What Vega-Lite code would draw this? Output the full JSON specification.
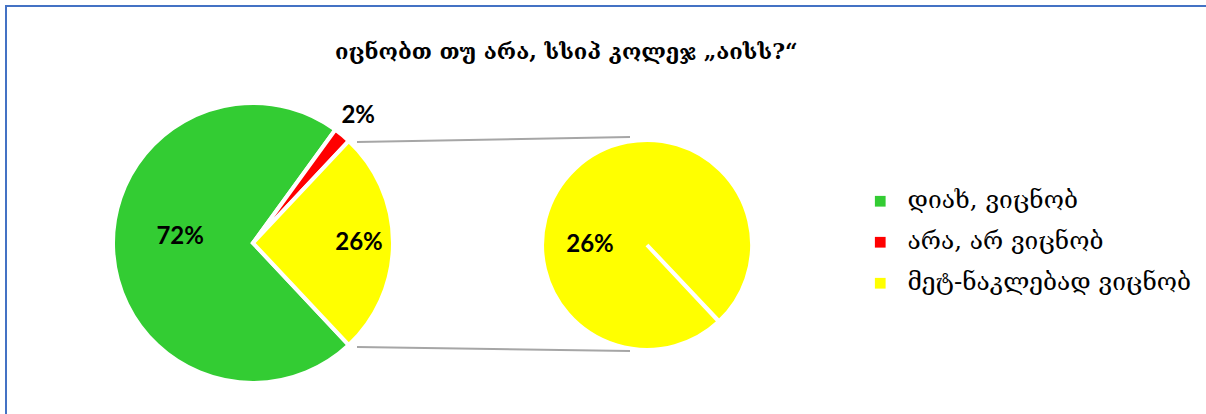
{
  "$schema": "https://vega.github.io/schema/vega-lite/v6.json",
  "usermeta": {"embedOptions": {"actions": false}},
  "width": 1202,
  "height": 410,
  "autosize": "none",
  "padding": {"left": 6, "top": 6, "right": -2, "bottom": -2},
  "background": "white",
  "config": {"view": {"stroke": "#4472C4", "strokeWidth": 2}, "font": "DejaVu Serif"},
  "title": {"text": "იცნობთ თუ არა, სსიპ კოლეჯ „აისს?“", "fontSize": 22, "fontWeight": "bold", "color": "#000000", "font": "DejaVu Serif", "anchor": "start", "offset": -58, "dx": 329},
  "resolve": {"scale": {"theta": "independent"}},
  "layer": [
    {
      "data": {"values": [
        {"plot": "main", "answer": "დიახ, ვიცნობ", "pct": 0.72},
        {"plot": "main", "answer": "არა, არ ვიცნობ", "pct": 0.02},
        {"plot": "main", "answer": "მეტ-ნაკლებად ვიცნობ", "pct": 0.26}
      ]},
      "encoding": {
        "x": {"field": "plot", "type": "nominal", "scale": {"type": "point", "domain": ["main", "secondary"], "range": [247, 641], "padding": 0}, "axis": null},
        "y": {"field": "plot", "type": "nominal", "scale": {"type": "point", "domain": ["main", "secondary"], "range": [237, 239], "padding": 0}, "axis": null},
        "theta": {"field": "pct", "type": "quantitative", "stack": true, "scale": {"range": [0.754, 7.0372]}},
        "order": {"field": "answer", "type": "nominal", "sort": "descending"}
      },
      "layer": [
        {
          "mark": {"type": "arc", "radius": 140, "stroke": "white", "strokeWidth": 4},
          "encoding": {
            "color": {"field": "answer", "type": "nominal",
              "scale": {"domain": ["დიახ, ვიცნობ", "არა, არ ვიცნობ", "მეტ-ნაკლებად ვიცნობ"], "range": ["#33CC33", "#FF0000", "#FFFF00"]},
              "legend": {"orient": "none", "legendX": 862, "legendY": 183, "title": null, "padding": 0, "symbolType": "square", "symbolSize": 115, "symbolStrokeWidth": 0, "labelFontSize": 24.5, "labelFont": "DejaVu Serif", "labelColor": "#000000", "rowPadding": 16, "labelOffset": 15, "labelLimit": 400}}
          }
        },
        {
          "mark": {"type": "text", "radius": 73, "dy": -11, "font": "Lato", "fontWeight": "bold", "fontSize": 24, "color": "#000000"},
          "encoding": {
            "text": {"field": "pct", "type": "quantitative", "format": ".0%"},
            "opacity": {"condition": {"test": "datum.answer === 'დიახ, ვიცნობ'", "value": 1}, "value": 0}
          }
        },
        {
          "mark": {"type": "text", "radius": 106, "font": "Lato", "fontWeight": "bold", "fontSize": 24, "color": "#000000"},
          "encoding": {
            "text": {"field": "pct", "type": "quantitative", "format": ".0%"},
            "opacity": {"condition": {"test": "datum.answer === 'მეტ-ნაკლებად ვიცნობ'", "value": 1}, "value": 0}
          }
        },
        {
          "mark": {"type": "text", "radius": 165, "font": "Lato", "fontWeight": "bold", "fontSize": 24, "color": "#000000"},
          "encoding": {
            "text": {"field": "pct", "type": "quantitative", "format": ".0%"},
            "opacity": {"condition": {"test": "datum.answer === 'არა, არ ვიცნობ'", "value": 1}, "value": 0}
          }
        }
      ]
    },
    {
      "data": {"values": [
        {"plot": "secondary", "answer": "მეტ-ნაკლებად ვიცნობ", "pct": 0.26}
      ]},
      "encoding": {
        "x": {"field": "plot", "type": "nominal", "axis": null},
        "y": {"field": "plot", "type": "nominal", "axis": null}
      },
      "resolve": {"scale": {"theta": "independent"}},
      "layer": [
        {
          "mark": {"type": "arc", "radius": 105, "stroke": "white", "strokeWidth": 4},
          "encoding": {
            "theta": {"field": "pct", "type": "quantitative", "stack": true, "scale": {"range": [2.3876, 8.6668]}},
            "color": {"field": "answer", "type": "nominal"}
          }
        },
        {
          "mark": {"type": "text", "radius": 57, "font": "Lato", "fontWeight": "bold", "fontSize": 24, "color": "#000000"},
          "encoding": {
            "theta": {"field": "pct", "type": "quantitative", "stack": true, "scale": {"range": [1.5708, 7.854]}},
            "text": {"field": "pct", "type": "quantitative", "format": ".0%"}
          }
        }
      ]
    },
    {
      "data": {"values": [
        {"edge": "top", "from": "main", "to": "secondary"},
        {"edge": "bottom", "from": "main", "to": "secondary"}
      ]},
      "encoding": {
        "x": {"field": "from", "type": "nominal", "axis": null},
        "x2": {"field": "to"},
        "y": {"field": "from", "type": "nominal", "axis": null},
        "y2": {"field": "to"}
      },
      "layer": [
        {
          "transform": [{"filter": "datum.edge === 'top'"}],
          "mark": {"type": "rule", "color": "#A6A6A6", "strokeWidth": 2, "xOffset": 104, "yOffset": -101, "x2Offset": -17, "y2Offset": -108}
        },
        {
          "transform": [{"filter": "datum.edge === 'bottom'"}],
          "mark": {"type": "rule", "color": "#A6A6A6", "strokeWidth": 2, "xOffset": 104, "yOffset": 104, "x2Offset": -17, "y2Offset": 106}
        }
      ]
    }
  ]
}
